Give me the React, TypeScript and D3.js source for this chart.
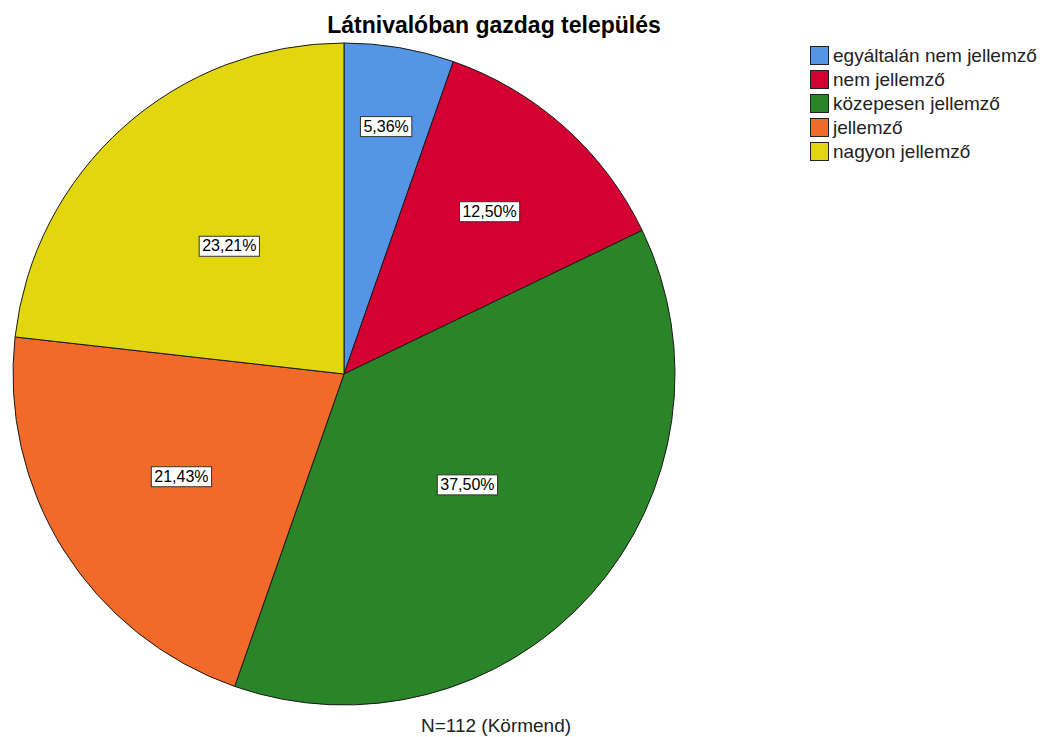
import { useEffect, useRef } from 'react'
import * as d3 from 'd3'

const categories = ['egyáltalán nem jellemző', 'nem jellemző', 'közepesen jellemző', 'jellemző', 'nagyon jellemző']
const counts = [6, 14, 42, 24, 26]
const colors = ['#5595E5', '#D50032', '#2A8428', '#F26A2A', '#E2D60F']
const title = 'Látnivalóban gazdag település'
const footnote = 'N=112 (Körmend)'

// where SPSS put each label, as a share of the radius
const labelRadiusFraction = [0.76, 0.66, 0.5, 0.58, 0.52]

export default function App() {
  const ref = useRef<SVGSVGElement>(null)

  useEffect(() => {
    if (!ref.current) return
    const svg = d3.select(ref.current)
    svg.selectAll('*').remove()

    const width = 1045
    const height = 737
    const cx = 344
    const cy = 374
    const r = 331
    const font = 'Liberation Sans, Arial, sans-serif'

    svg.attr('width', width).attr('height', height)
    svg.append('rect').attr('width', width).attr('height', height).attr('fill', '#fff')

    const total = d3.sum(counts)
    const data = categories.map((c, i) => ({ name: c, count: counts[i], color: colors[i], i }))

    const pie = d3.pie<(typeof data)[number]>().sort(null).value(d => d.count)
    const arcs = pie(data)
    const arc = d3.arc<d3.PieArcDatum<(typeof data)[number]>>().innerRadius(0).outerRadius(r)

    const g = svg.append('g').attr('transform', `translate(${cx},${cy})`)

    g.selectAll('path')
      .data(arcs)
      .enter()
      .append('path')
      .attr('d', arc)
      .attr('fill', d => d.data.color)
      .attr('stroke', '#1a1a1a')
      .attr('stroke-width', 1)

    // percentage labels in boxes
    const fmt = (v: number) => d3.format('.2f')(v).replace('.', ',') + '%'
    arcs.forEach(a => {
      const mid = (a.startAngle + a.endAngle) / 2
      const lr = r * labelRadiusFraction[a.data.i]
      const x = lr * Math.sin(mid)
      const y = -lr * Math.cos(mid)
      const lg = g.append('g').attr('transform', `translate(${x},${y})`)
      const t = lg
        .append('text')
        .attr('text-anchor', 'middle')
        .attr('dy', '0.35em')
        .style('font-family', font)
        .style('font-size', '16px')
        .style('fill', '#000')
        .text(fmt((a.data.count / total) * 100))
      const bb = (t.node() as SVGTextElement).getBBox()
      lg.insert('rect', 'text')
        .attr('x', bb.x - 3)
        .attr('y', bb.y - 1)
        .attr('width', bb.width + 6)
        .attr('height', bb.height + 3)
        .attr('fill', '#fff')
        .attr('stroke', '#333')
        .attr('stroke-width', 1)
    })

    // title
    svg.append('text')
      .attr('x', 494)
      .attr('y', 33)
      .attr('text-anchor', 'middle')
      .style('font-family', font)
      .style('font-size', '23px')
      .style('font-weight', 'bold')
      .style('fill', '#000')
      .text(title)

    // footnote
    svg.append('text')
      .attr('x', 496)
      .attr('y', 732)
      .attr('text-anchor', 'middle')
      .style('font-family', font)
      .style('font-size', '19px')
      .style('fill', '#222')
      .text(footnote)

    // legend
    const legend = svg.append('g').attr('transform', 'translate(810,46)')
    const item = legend
      .selectAll('g')
      .data(data)
      .enter()
      .append('g')
      .attr('transform', (d, i) => `translate(0,${i * 24})`)
    item.append('rect')
      .attr('x', 0.5)
      .attr('y', 0.5)
      .attr('width', 18)
      .attr('height', 18)
      .attr('fill', d => d.color)
      .attr('stroke', '#222')
      .attr('stroke-width', 1)
    item.append('text')
      .attr('x', 23)
      .attr('y', 9)
      .attr('dy', '0.35em')
      .style('font-family', font)
      .style('font-size', '19px')
      .style('fill', '#222')
      .text(d => d.name)
  }, [])

  return <svg ref={ref} style={{ display: 'block', position: 'absolute', left: 0, top: 0 }} />
}
